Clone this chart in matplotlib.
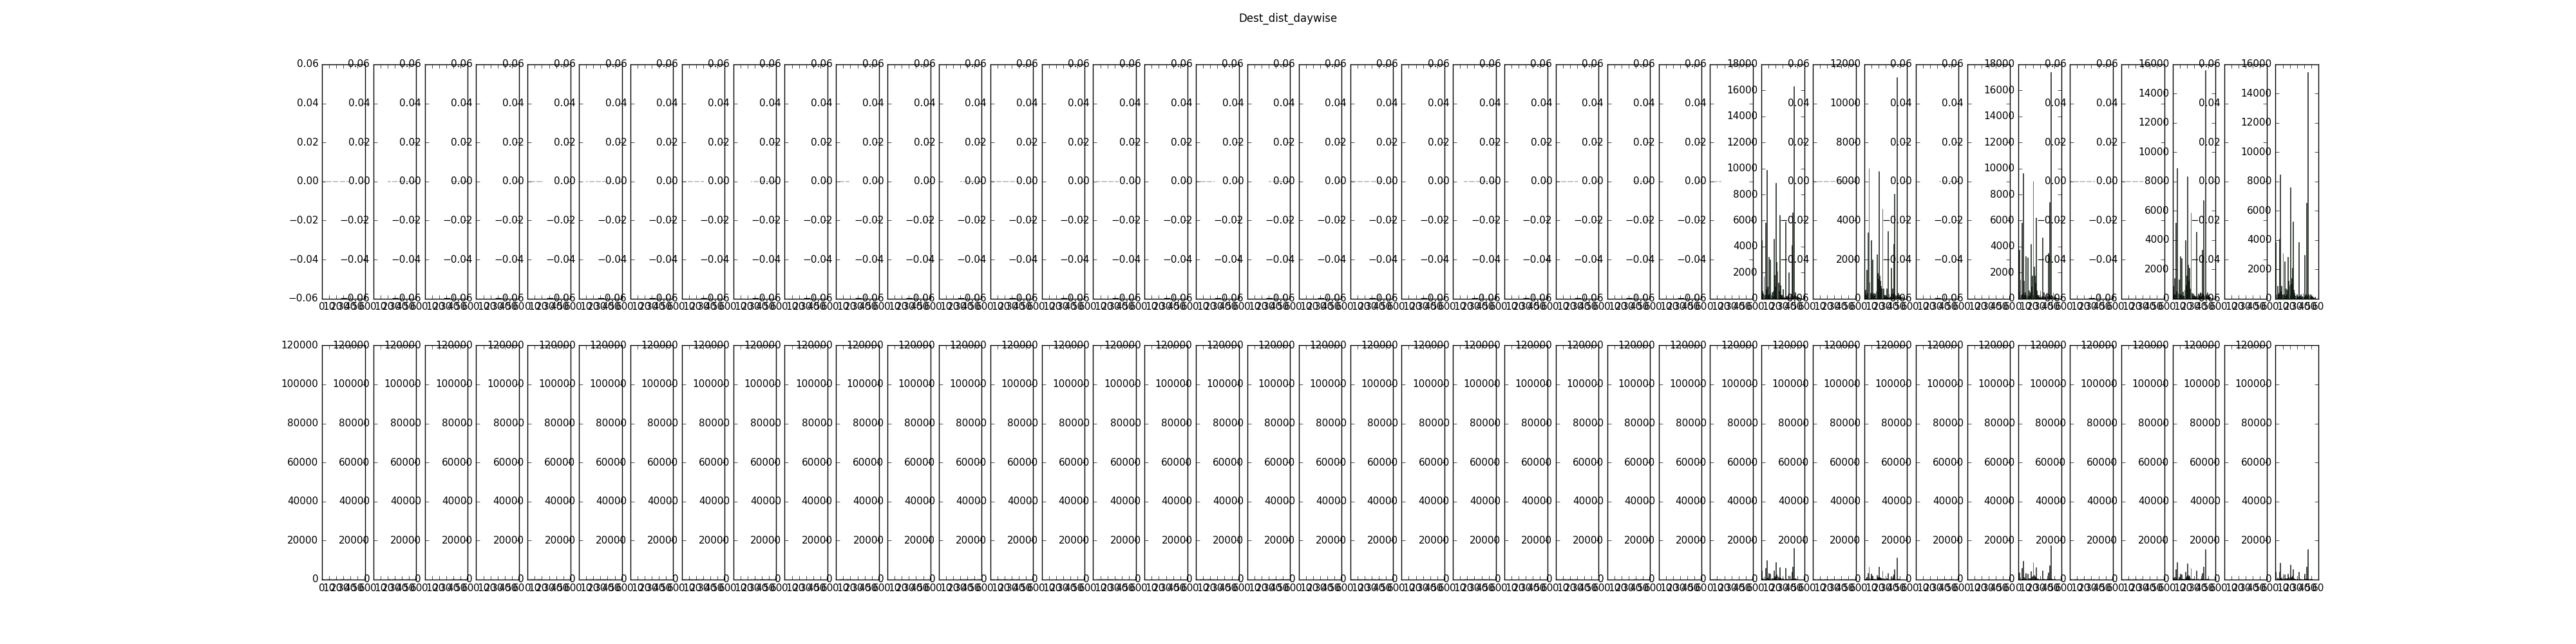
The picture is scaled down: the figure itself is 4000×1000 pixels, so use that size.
import numpy as np
import matplotlib
matplotlib.use('Agg')
import matplotlib.pyplot as plt

plt.style.use('classic')
plt.rcParams['font.size'] = 11
plt.rcParams['font.family'] = ['DejaVu Sans']

# 39 jours, une colonne par jour ; destinations numerotees 0..55
nb_jours = 39
destinations = np.arange(56)

# comptages par destination pour les jours qui ont des donnees
jour_28 = [4500, 600, 400, 1700, 300, 5800, 700, 9900, 900, 300,
           3200, 400, 3000, 300, 500, 200, 600, 4600, 1800, 900,
           8900, 2800, 2100, 1200, 600, 6400, 1000, 300, 300, 150,
           700, 200, 100, 5900, 200, 200, 100, 150, 2000, 100,
           200, 300, 4100, 6600, 200, 16300, 300, 500, 200, 200,
           100, 150, 100, 50, 50, 50]
jour_30 = [300, 440, 200, 1460, 300, 3380, 6700, 860, 300, 3000,
           300, 2010, 200, 300, 150, 250, 400, 2250, 1300, 1000,
           6530, 1190, 900, 640, 500, 4620, 530, 200, 200, 100,
           150, 530, 100, 3440, 250, 100, 100, 1570, 100, 530,
           200, 2780, 5360, 200, 150, 11340, 200, 300, 100, 200,
           100, 100, 100, 140, 50, 50]
jour_33 = [600, 3750, 1450, 300, 5800, 400, 9640, 1370, 300, 500,
           3260, 300, 3130, 200, 630, 300, 500, 4170, 900, 1780,
           9060, 2440, 1780, 1200, 6230, 630, 300, 200, 300, 150,
           630, 100, 200, 4660, 200, 460, 100, 150, 200, 460,
           200, 3500, 300, 7400, 200, 17400, 300, 200, 460, 150,
           210, 100, 100, 50, 50, 50]
jour_36 = [850, 300, 1400, 300, 5170, 500, 8930, 400, 1290, 300,
           2900, 300, 2750, 200, 480, 200, 600, 4000, 900, 1580,
           8350, 2310, 1200, 2100, 700, 5900, 400, 200, 340, 150,
           200, 100, 150, 4540, 200, 340, 100, 150, 410, 100,
           200, 3340, 300, 6730, 200, 15600, 300, 200, 410, 150,
           260, 100, 100, 50, 50, 50]
jour_38 = [3850, 300, 850, 300, 400, 4070, 8460, 500, 850, 300,
           3120, 300, 2530, 200, 700, 300, 600, 2830, 1200, 900,
           7580, 1000, 1400, 2100, 5270, 600, 400, 200, 200, 300,
           150, 100, 3850, 200, 150, 300, 100, 150, 400, 100,
           2970, 200, 300, 6560, 200, 15490, 300, 200, 300, 150,
           200, 100, 100, 50, 50, 100]

donnees = {28: jour_28, 30: jour_30, 33: jour_33, 36: jour_36, 38: jour_38}

# jours sans trajet : destinations presentes mais avec un comptage nul
zeros = {0: (0, 38), 1: (20, 59), 2: (36, 59), 4: (0, 20), 5: (10, 45),
         7: (0, 30), 8: (25, 59), 10: (0, 18), 12: (30, 59), 13: (0, 40),
         15: (5, 35), 17: (0, 25), 18: (30, 59), 20: (0, 45), 22: (15, 59),
         24: (0, 30), 25: (35, 59), 27: (0, 15), 29: (0, 59), 31: (33, 59),
         34: (0, 34), 35: (0, 30)}

style_barres = dict(width=0.8, align='edge', color='#0b3d0b',
                    edgecolor='black', alpha=0.7, linewidth=0.6)

fig, axes = plt.subplots(2, nb_jours, figsize=(40, 10), dpi=100)
fig.suptitle('Dest_dist_daywise', fontsize=12)

for j in range(nb_jours):
    for ligne in range(2):
        ax = axes[ligne, j]
        if j in donnees:
            ax.bar(destinations, donnees[j], **style_barres)
        elif j in zeros:
            a, b = zeros[j]
            xs = np.arange(a, b + 1)
            ax.bar(xs, np.zeros(len(xs)), width=0.8, align='edge',
                   color='#0b3d0b', edgecolor='0.55', alpha=0.6,
                   linewidth=1.2)
        ax.set_xlim(0, 60)
        ax.set_xticks(np.arange(0, 61, 10))
        if ligne == 1:
            ax.set_ylim(0, 120000)
            ax.set_yticks(np.arange(0, 120001, 20000))
        elif j in donnees:
            haut = 2000 * np.ceil(max(donnees[j]) / 2000.0)
            ax.set_ylim(0, haut)
            ax.set_yticks(np.arange(0, haut + 1, 2000))
        else:
            ax.set_ylim(-0.06, 0.06)
            ax.set_yticks(np.linspace(-0.06, 0.06, 7))

fig.savefig('out.png', dpi=100, facecolor='white')
